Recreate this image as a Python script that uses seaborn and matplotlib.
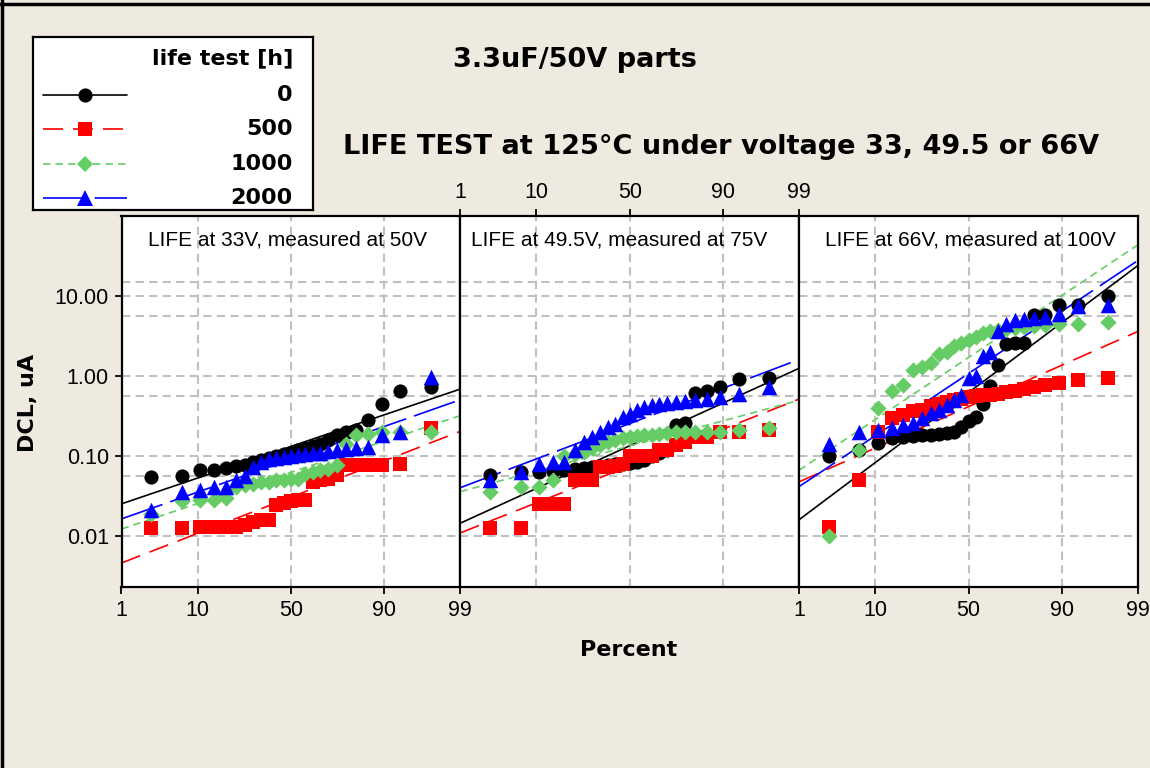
import numpy as np
import pandas as pd
import matplotlib
matplotlib.use('Agg')
import matplotlib.pyplot as plt
import seaborn as sns
from matplotlib.lines import Line2D
from matplotlib.ticker import NullLocator
from statistics import NormalDist

# life test durations [h] and the three test conditions
hours = ['0', '500', '1000', '2000']
panel_titles = ['LIFE at 33V, measured at 50V',
                'LIFE at 49.5V, measured at 75V',
                'LIFE at 66V, measured at 100V']
pct_ticks = [1, 10, 50, 90, 99]
pct_grid = [10, 50, 90]
dcl_ticks = [0.01, 0.1, 1, 10]
dcl_labels = ['0.01', '0.10', '1.00', '10.00']
dcl_grid = [0.01, 0.056, 0.1, 0.56, 1, 5.6, 10, 15]

# DCL readings [uA], 25 parts per group
# life at 33V, measured at 50V
p1_0 = [0.055, 0.056, 0.066, 0.067, 0.071, 0.074, 0.077, 0.083, 0.09, 0.095, 0.1, 0.105, 0.11,
        0.118, 0.125, 0.133, 0.14, 0.16, 0.18, 0.2, 0.21, 0.28, 0.45, 0.64, 0.73]
p1_500 = [0.0124, 0.0124, 0.013, 0.013, 0.013, 0.013, 0.0135, 0.015, 0.016, 0.016, 0.024, 0.026, 0.027,
          0.028, 0.028, 0.047, 0.05, 0.052, 0.058, 0.076, 0.076, 0.076, 0.076, 0.08, 0.22]
p1_1000 = [0.019, 0.027, 0.028, 0.028, 0.03, 0.041, 0.043, 0.045, 0.047, 0.047, 0.05, 0.05, 0.052,
           0.052, 0.06, 0.063, 0.066, 0.069, 0.076, 0.14, 0.18, 0.19, 0.2, 0.2, 0.2]
p1_2000 = [0.021, 0.035, 0.037, 0.041, 0.041, 0.05, 0.056, 0.072, 0.085, 0.092, 0.095, 0.098, 0.1,
           0.104, 0.106, 0.108, 0.11, 0.115, 0.12, 0.122, 0.125, 0.13, 0.18, 0.2, 0.97]
# life at 49.5V, measured at 75V
p2_0 = [0.058, 0.062, 0.063, 0.064, 0.066, 0.068, 0.07, 0.072, 0.074, 0.076, 0.078, 0.08, 0.082,
        0.085, 0.09, 0.1, 0.11, 0.12, 0.24, 0.26, 0.62, 0.65, 0.72, 0.92, 0.93]
p2_500 = [0.0125, 0.0125, 0.025, 0.025, 0.025, 0.05, 0.05, 0.05, 0.073, 0.073, 0.075, 0.08, 0.1,
          0.1, 0.1, 0.1, 0.12, 0.12, 0.135, 0.15, 0.17, 0.17, 0.2, 0.2, 0.21]
p2_1000 = [0.035, 0.041, 0.041, 0.05, 0.1, 0.107, 0.112, 0.124, 0.136, 0.15, 0.157, 0.165, 0.17,
           0.175, 0.18, 0.185, 0.19, 0.195, 0.2, 0.2, 0.2, 0.2, 0.2, 0.21, 0.22]
p2_2000 = [0.05, 0.063, 0.08, 0.084, 0.084, 0.118, 0.15, 0.173, 0.2, 0.23, 0.25, 0.31, 0.33,
           0.37, 0.41, 0.43, 0.45, 0.46, 0.47, 0.49, 0.5, 0.52, 0.55, 0.6, 0.73]
# life at 66V, measured at 100V
p3_0 = [0.1, 0.12, 0.145, 0.165, 0.17, 0.175, 0.18, 0.185, 0.19, 0.195, 0.2, 0.23, 0.27,
        0.31, 0.45, 0.75, 1.35, 2.5, 2.55, 2.6, 5.7, 5.8, 7.6, 7.8, 10.0]
p3_500 = [0.013, 0.05, 0.2, 0.3, 0.32, 0.36, 0.38, 0.42, 0.45, 0.47, 0.5, 0.52, 0.55,
          0.56, 0.57, 0.58, 0.6, 0.63, 0.65, 0.68, 0.72, 0.76, 0.82, 0.88, 0.93]
p3_1000 = [0.01, 0.12, 0.4, 0.64, 0.78, 1.2, 1.3, 1.45, 1.9, 2.0, 2.4, 2.6, 2.8,
           3.1, 3.4, 3.6, 3.8, 3.9, 4.0, 4.1, 4.2, 4.3, 4.4, 4.5, 4.7]
p3_2000 = [0.14, 0.2, 0.21, 0.22, 0.24, 0.26, 0.3, 0.34, 0.38, 0.43, 0.5, 0.58, 0.95,
           1.0, 1.8, 2.0, 3.6, 4.5, 5.0, 5.2, 5.3, 5.4, 6.0, 7.5, 7.6]

panels = [[p1_0, p1_500, p1_1000, p1_2000],
          [p2_0, p2_500, p2_1000, p2_2000],
          [p3_0, p3_500, p3_1000, p3_2000]]

colors = {'0': '#000000', '500': '#FF0000', '1000': '#66CC66', '2000': '#0000FF'}
markers = {'0': 'o', '500': 's', '1000': 'D', '2000': '^'}
msize = {'0': 10.2, '500': 10.0, '1000': 8.3, '2000': 11.2}
dashes = {'0': '', '500': (12, 6), '1000': (4.5, 3), '2000': (26, 5)}

nd = NormalDist()
z_lo, z_hi = nd.inv_cdf(0.01), nd.inv_cdf(0.99)

# probability plot positions (median ranks) and lognormal fits
rows, fits = [], []
for k, groups in enumerate(panels):
    for h, vals in zip(hours, groups):
        v = np.sort(np.array(vals))
        n = len(v)
        for i, d in enumerate(v):
            rows.append({'panel': k, 'life': h, 'z': nd.inv_cdf((i + 1 - 0.3) / (n + 0.4)), 'dcl': d})
        lv = np.log10(v)
        mu, sd = lv.mean(), lv.std(ddof=1)
        for zz in (z_lo, z_hi):
            fits.append({'panel': k, 'life': h, 'z': zz, 'dcl': 10 ** (mu + sd * zz)})
df = pd.DataFrame(rows)
fit_df = pd.DataFrame(fits)

sns.set_theme(style='white')
plt.rcParams['font.family'] = ['Liberation Sans', 'DejaVu Sans']
plt.rcParams['text.color'] = 'black'
plt.rcParams['axes.labelcolor'] = 'black'
bold = dict(family='DejaVu Sans', fontweight='bold', color='black')

W, H = 1150, 768
bg = '#EEEAE0'
fig = plt.figure(figsize=(W / 100, H / 100), dpi=100, facecolor=bg)

left_edges = [121.5, 460.3, 799.1]
pw, top, bottom = 338.8, 216, 587
title_x = [0.49, 0.47, 0.505]

for k in range(3):
    ax = fig.add_axes([left_edges[k] / W, 1 - bottom / H, pw / W, (bottom - top) / H])
    ax.set_facecolor('white')
    ax.set_yscale('log')
    for g in dcl_grid:
        ax.axhline(g, color='#C0C0C0', lw=1.5, dashes=(4, 2.5), zorder=0)
    for g in pct_grid:
        ax.axvline(nd.inv_cdf(g / 100), color='#C0C0C0', lw=1.5, dashes=(4, 2.5), zorder=0)

    sns.lineplot(data=fit_df[fit_df.panel == k], x='z', y='dcl', hue='life', style='life',
                 palette=colors, dashes=dashes, hue_order=hours, style_order=hours,
                 estimator=None, sort=False, lw=1.2, legend=False, ax=ax, zorder=2)
    sub = df[df.panel == k]
    for h in hours:
        sns.scatterplot(data=sub[sub.life == h], x='z', y='dcl', marker=markers[h],
                        color=colors[h], s=msize[h] ** 2, linewidth=0, legend=False,
                        ax=ax, zorder=3)

    ax.set_xlim(z_lo, z_hi)
    ax.set_ylim(10 ** -2.64, 10 ** 2.0)
    ax.set_xlabel('')
    ax.set_ylabel('')
    ax.set_xticks([nd.inv_cdf(p / 100) for p in pct_ticks])
    ax.set_xticklabels([str(p) for p in pct_ticks])
    ax.set_yticks(dcl_ticks)
    ax.set_yticklabels(dcl_labels)
    ax.yaxis.set_minor_locator(NullLocator())
    ax.tick_params(direction='out', length=5, width=1.3, pad=4, labelsize=15.5,
                   colors='black', labelcolor='black')
    if k == 1:
        ax.tick_params(axis='x', bottom=False, labelbottom=False, top=True, labeltop=True)
    else:
        ax.tick_params(axis='x', bottom=True, labelbottom=True, top=False, labeltop=False)
    if k == 0:
        ax.tick_params(axis='y', left=True, labelleft=True)
    else:
        ax.tick_params(axis='y', left=False, labelleft=False)
    for s in ax.spines.values():
        s.set_color('black')
        s.set_linewidth(1.6)
    ax.text(title_x[k], 0.935, panel_titles[k], transform=ax.transAxes, ha='center',
            va='center', fontsize=15, color='black')

# legend box
lg = fig.add_axes([33 / W, 1 - 210 / H, 280 / W, 173 / H])
lg.set_xlim(33, 313)
lg.set_ylim(210, 37)
lg.set_xticks([])
lg.set_yticks([])
lg.set_facecolor('white')
for s in lg.spines.values():
    s.set_color('black')
    s.set_linewidth(1.6)
lg.text(293, 58, 'life test [h]', ha='right', va='center', fontsize=16, **bold)
for h, y in zip(hours, [95, 129, 164, 198]):
    lg.add_line(Line2D([43, 127], [y, y], color=colors[h], lw=1.2,
                       dashes=dashes[h] if dashes[h] else (None, None)))
    lg.plot([85], [y], marker=markers[h], color=colors[h], ms=msize[h], mew=0, ls='none')
    lg.text(293, y, h, ha='right', va='center', fontsize=16, **bold)

fig.text(574.5 / W, 1 - 60 / H, '3.3uF/50V parts', ha='center', va='center', fontsize=19.5, **bold)
fig.text(721 / W, 1 - 147 / H, 'LIFE TEST at 125°C under voltage 33, 49.5 or 66V',
         ha='center', va='center', fontsize=19.5, **bold)
fig.text(28 / W, 1 - 403 / H, 'DCL, uA', rotation=90, ha='center', va='center', fontsize=16, **bold)
fig.text(629 / W, 1 - 650 / H, 'Percent', ha='center', va='center', fontsize=16, **bold)

# outer frame (top and left edges)
fig.add_artist(Line2D([0, 1], [1 - 3.5 / H, 1 - 3.5 / H], color='black', lw=2.5))
fig.add_artist(Line2D([1.5 / W, 1.5 / W], [0, 1], color='black', lw=2.5))

fig.savefig('out.png', dpi=100, facecolor=bg)
